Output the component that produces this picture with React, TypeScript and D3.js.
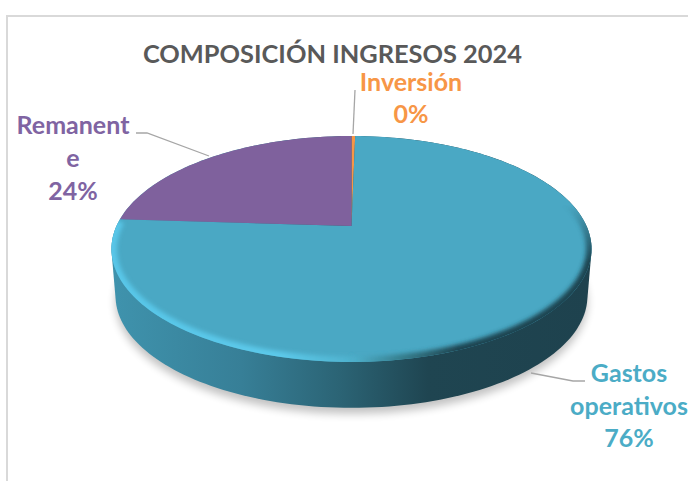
import React from "react";
import * as d3 from "d3";

const categories = ["Inversión", "Gastos operativos", "Remanente"];
const values = [0.3, 75.7, 24.0];
const sliceColors = ["#f79646", "#4aa8c4", "#7f619d"];
const labelColors = ["#f79646", "#4bacc6", "#8064a2"];
const labelLines = [["Inversión", "0%"], ["Gastos", "operativos", "76%"], ["Remanent", "e", "24%"]];
const title = "COMPOSICIÓN INGRESOS 2024";

const W = 688, H = 481;
const cx = 351.5, apexY = 226;
// perspective projection of the unit disc to the screen
const persp = -0.2035, kx = 235, ka = 62.3;
const project = (a: number): [number, number] => {
  const u = Math.sin(a), v = -Math.cos(a);
  const w = 1 + persp * v;
  return [cx + (kx * u) / w, (ka * v + apexY) / w];
};
const faceCy = 249.5, depth = 47;
const lower = ([x, y]: [number, number]): [number, number] => [cx + (x - cx) * 0.983, faceCy + depth + (y - faceCy) * 0.99];

const line = d3.line();
const samples = (a0: number, a1: number, n = 120) => d3.range(n + 1).map((i) => a0 + ((a1 - a0) * i) / n);
const full = samples(0, 2 * Math.PI, 240);
const facePts = full.map(project);
const lowerPts = facePts.map(lower);
const hull = d3.polygonHull([...facePts, ...lowerPts]) as [number, number][];

const arcs = d3.pie<number>().sort(null).value((d) => d)(values);
const slicePath = (s: number, e: number) => {
  const pts = samples(s, e, Math.max(4, Math.ceil((e - s) * 40))).map(project);
  return line([[cx, apexY], ...pts]) + "Z";
};
const rimRight = line(samples(0.4 * Math.PI, 1.0 * Math.PI, 100).map(project)) as string;
const rimLeft = line(samples(1.0 * Math.PI, 1.515 * Math.PI, 100).map(project)) as string;

const leaders: [number, number][][] = [
  [[355, 90], [353, 134]],
  [[531, 373], [573, 381], [585, 381]],
  [[136, 133], [147, 133], [209, 156]],
];
const labelPos = [
  { x: 411, y: 91, dy: 32 },
  { x: 629, y: 382, dy: 32.5 },
  { x: 73, y: 134, dy: 33 },
];
const font = "Lato, Carlito, sans-serif";

export default function App() {
  return (
    <svg width={W} height={H} style={{ position: "absolute", left: 0, top: 0, background: "#fff" }}>
      <defs>
        <linearGradient id="side" gradientUnits="userSpaceOnUse" x1={112} x2={591} y1={0} y2={0}>
          <stop offset="0" stopColor="#3f93ad" />
          <stop offset="0.27" stopColor="#377f97" />
          <stop offset="0.48" stopColor="#2b6374" />
          <stop offset="0.66" stopColor="#1f4551" />
          <stop offset="1" stopColor="#1e424e" />
        </linearGradient>
        <linearGradient id="rim" gradientUnits="userSpaceOnUse" x1={112} x2={591} y1={0} y2={0}>
          <stop offset="0" stopColor="#58c6e8" />
          <stop offset="0.35" stopColor="#5cc9ea" />
          <stop offset="0.5" stopColor="#4fb2ce" />
          <stop offset="0.6" stopColor="#37808f" />
          <stop offset="0.72" stopColor="#1f4551" />
          <stop offset="1" stopColor="#1f4551" />
        </linearGradient>
        <linearGradient id="fadeY" gradientUnits="userSpaceOnUse" x1={0} x2={0} y1={205} y2={262}>
          <stop offset="0" stopColor="#000" />
          <stop offset="1" stopColor="#fff" />
        </linearGradient>
        <mask id="fade" maskUnits="userSpaceOnUse" x={0} y={0} width={W} height={H}>
          <rect width={W} height={H} fill="url(#fadeY)" />
        </mask>
        <filter id="soft" x="-10%" y="-10%" width="120%" height="120%"><feGaussianBlur stdDeviation="2.2" /></filter>
        <filter id="shadow" x="-10%" y="-20%" width="120%" height="140%"><feGaussianBlur stdDeviation="4" /></filter>
        <clipPath id="face"><path d={line(facePts) + "Z"} /></clipPath>
      </defs>
      <path d={`M7 ${H}V16H${W}`} fill="none" stroke="#d9d9d9" strokeWidth={2} />
      <text x={332.5} y={63} textAnchor="middle" fontFamily={font} fontWeight={700} fontSize={25.4} fill="#595959">{title}</text>

      <path d={line(lowerPts.map(([x, y]) => [x, y + 6] as [number, number])) + "Z"} fill="#000" opacity={0.24} filter="url(#shadow)" />
      <path d={line(hull) + "Z"} fill="url(#side)" />

      {arcs.map((a, i) => (
        <path key={categories[i]} d={slicePath(a.startAngle, a.endAngle)} fill={sliceColors[i]} />
      ))}
      <g clipPath="url(#face)">
        <g mask="url(#fade)">
          <path d={rimRight} fill="none" stroke="url(#rim)" strokeWidth={11} filter="url(#soft)" />
        </g>
        <path d={rimLeft} fill="none" stroke="url(#rim)" strokeWidth={11} filter="url(#soft)" />
      </g>

      {leaders.map((pts, i) => (
        <path key={i} d={line(pts) as string} fill="none" stroke="#a6a6a6" strokeWidth={1.3} />
      ))}
      {labelLines.map((lines, i) =>
        lines.map((t, j) => (
          <text key={t} x={labelPos[i].x} y={labelPos[i].y + j * labelPos[i].dy} textAnchor="middle" fontFamily={font} fontWeight={700} fontSize={25} fill={labelColors[i]}>{t}</text>
        ))
      )}
    </svg>
  );
}
